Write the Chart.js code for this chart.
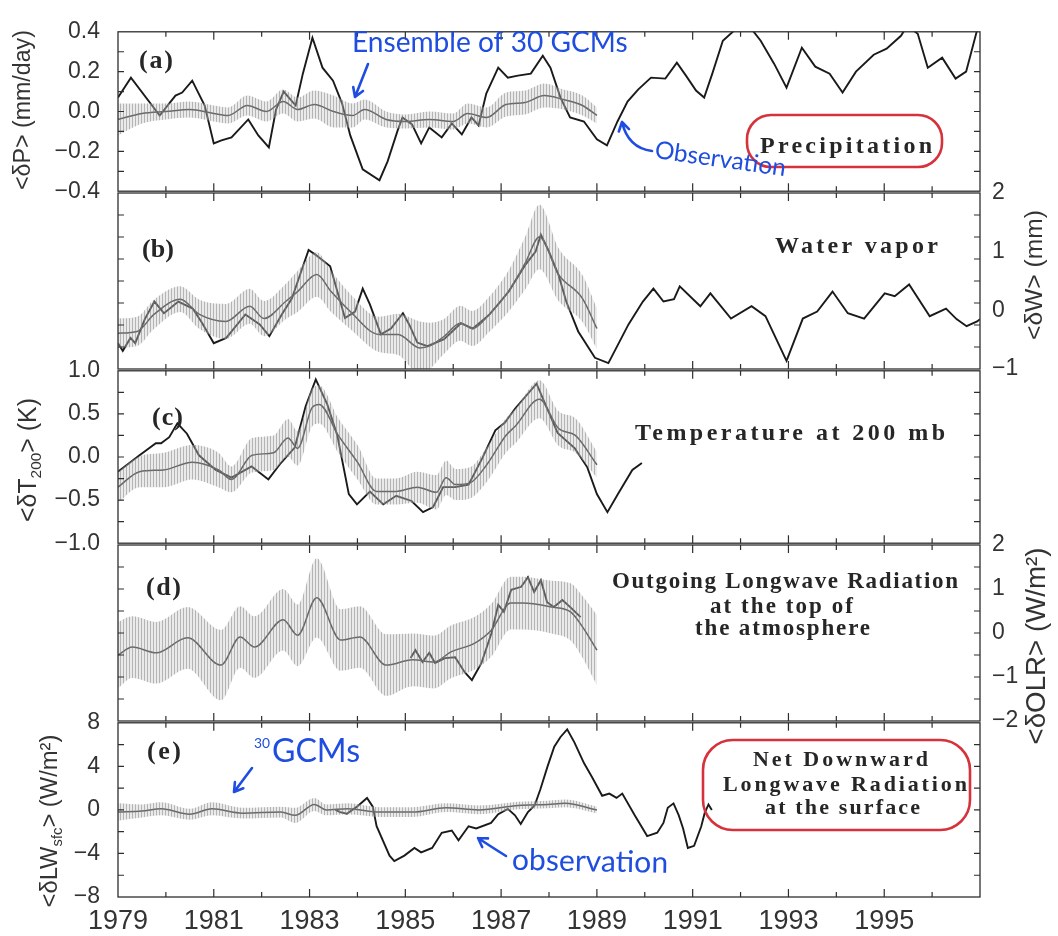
<!DOCTYPE html>
<html>
<head>
<meta charset="utf-8">
<script src="https://cdn.jsdelivr.net/npm/chart.js@4.4.0/dist/chart.umd.min.js"></script>
<style>
html, body { margin: 0; padding: 0; background: #fff; }
#wrap { position: relative; width: 1058px; height: 936px; overflow: hidden; }
#wrap canvas { position: absolute; left: 0; }
</style>
</head>
<body>
<div id="wrap">
  <canvas id="panelA"></canvas>
  <canvas id="panelB"></canvas>
  <canvas id="panelC"></canvas>
  <canvas id="panelD"></canvas>
  <canvas id="panelE"></canvas>
</div>
<script>
// ---- data: [year, value] and [year, ensemble mean, half spread] ----
const yearLabels = [1979, 1981, 1983, 1985, 1987, 1989, 1991, 1993, 1995];

const ticksA = [-0.4, -0.2, 0, 0.2, 0.4];
const ticksB = [-1, 0, 1, 2];
const ticksC = [-1, -0.5, 0, 0.5, 1];
const ticksD = [-2, -1, 0, 1, 2];
const ticksE = [-8, -4, 0, 4, 8];

const obsA = [[1979.0,0.07],[1979.27,0.17],[1979.87,-0.02],[1980.2,0.08],[1980.34,0.095],[1980.55,0.155],[1980.81,0.03],
  [1981.0,-0.16],[1981.16,-0.145],[1981.37,-0.13],[1981.72,-0.04],[1981.93,-0.12],[1982.15,-0.18],[1982.3,0.01],
  [1982.46,0.1],[1982.71,0.03],[1982.86,0.19],[1983.06,0.37],[1983.27,0.22],[1983.49,0.155],[1983.68,0.04],
  [1983.85,-0.12],[1984.11,-0.29],[1984.46,-0.345],[1984.63,-0.25],[1984.84,-0.095],[1984.94,-0.03],[1985.14,-0.065],
  [1985.33,-0.16],[1985.5,-0.08],[1985.76,-0.13],[1985.97,-0.06],[1986.18,-0.115],[1986.38,-0.03],[1986.53,-0.07],
  [1986.69,0.09],[1986.94,0.22],[1987.14,0.17],[1987.35,0.18],[1987.62,0.19],[1987.87,0.28],[1988.03,0.22],
  [1988.24,0.07],[1988.44,-0.03],[1988.73,-0.05],[1989.0,-0.14],[1989.21,-0.17],[1989.43,-0.05],[1989.64,0.05],
  [1989.86,0.11],[1990.13,0.17],[1990.43,0.165],[1990.67,0.245],[1990.86,0.18],[1991.07,0.105],[1991.24,0.07],
  [1991.41,0.19],[1991.63,0.355],[1991.93,0.42],[1992.21,0.42],[1992.42,0.355],[1992.7,0.24],[1992.96,0.12],
  [1993.28,0.32],[1993.56,0.225],[1993.86,0.19],[1994.13,0.095],[1994.41,0.2],[1994.78,0.285],[1995.05,0.315],
  [1995.35,0.38],[1995.48,0.43],[1995.7,0.39],[1995.91,0.22],[1996.21,0.27],[1996.49,0.165],[1996.71,0.2],
  [1996.93,0.4],[1997.0,0.45]];
const modelA = [[1979.0,-0.04,0.08],[1979.5,-0.01,0.05],[1980.0,0.0,0.04],[1980.5,0.01,0.04],[1981.0,-0.01,0.04],
  [1981.3,-0.02,0.04],[1981.7,0.03,0.05],[1982.1,0.0,0.05],[1982.45,0.05,0.06],[1982.75,0.01,0.06],[1983.1,0.035,0.07],
  [1983.5,0.0,0.08],[1983.9,-0.02,0.06],[1984.15,0.01,0.05],[1984.6,-0.04,0.04],[1985.0,-0.05,0.035],[1985.5,-0.04,0.04],
  [1986.0,-0.05,0.04],[1986.3,-0.01,0.05],[1986.7,-0.03,0.05],[1987.1,0.035,0.06],[1987.5,0.045,0.06],[1987.9,0.08,0.06],
  [1988.3,0.06,0.05],[1988.7,0.03,0.05],[1989.0,-0.02,0.04]];

const obsB = [[1979.0,-0.56],[1979.1,-0.69],[1979.26,-0.47],[1979.36,-0.56],[1979.56,-0.15],[1979.76,0.15],[1979.96,-0.05],
  [1980.26,0.15],[1980.56,0.03],[1980.76,-0.22],[1981.0,-0.56],[1981.26,-0.47],[1981.66,-0.07],[1981.96,-0.24],
  [1982.16,-0.44],[1982.42,-0.07],[1982.63,0.2],[1982.98,1.03],[1983.12,0.95],[1983.43,0.75],[1983.74,-0.13],
  [1983.95,-0.02],[1984.11,0.37],[1984.26,0.1],[1984.49,-0.41],[1984.7,-0.31],[1984.95,-0.05],[1985.08,-0.24],
  [1985.25,-0.55],[1985.46,-0.61],[1985.81,-0.49],[1986.16,-0.22],[1986.41,-0.31],[1986.76,-0.07],[1987.16,0.32],
  [1987.51,0.78],[1987.72,1.0],[1987.83,1.29],[1988.0,1.0],[1988.2,0.6],[1988.36,0.15],[1988.61,-0.36],[1988.96,-0.81],
  [1989.24,-0.9],[1989.66,-0.24],[1989.96,0.15],[1990.18,0.37],[1990.39,0.15],[1990.61,0.19],[1990.73,0.41],
  [1991.16,0.07],[1991.37,0.29],[1991.8,-0.14],[1992.23,0.07],[1992.52,-0.1],[1992.96,-0.86],[1993.3,-0.14],
  [1993.6,-0.02],[1993.92,0.32],[1994.24,-0.05],[1994.58,-0.14],[1995.01,0.29],[1995.22,0.24],[1995.52,0.44],
  [1995.95,-0.1],[1996.29,0.03],[1996.51,-0.15],[1996.72,-0.27],[1996.94,-0.19],[1997.0,-0.15]];
const modelB = [[1979.0,-0.39,0.25],[1979.4,-0.36,0.25],[1979.75,-0.07,0.25],[1980.3,0.19,0.22],[1980.7,-0.07,0.25],
  [1981.25,-0.19,0.3],[1981.75,0.07,0.3],[1982.05,-0.14,0.3],[1982.5,0.15,0.3],[1982.75,0.32,0.35],[1983.15,0.61,0.38],
  [1983.45,0.32,0.35],[1983.85,-0.02,0.3],[1984.45,-0.41,0.3],[1984.85,-0.41,0.35],[1985.3,-0.64,0.45],[1985.5,-0.61,0.4],
  [1985.8,-0.45,0.3],[1986.15,-0.22,0.3],[1986.4,-0.31,0.3],[1986.75,-0.07,0.3],[1987.15,0.32,0.35],[1987.5,0.8,0.45],
  [1987.8,1.25,0.55],[1988.2,0.61,0.45],[1988.7,0.2,0.4],[1989.0,-0.31,0.35]];

const obsC = [[1979.0,-0.17],[1979.45,0.02],[1979.79,0.16],[1979.9,0.16],[1980.07,0.23],[1980.24,0.39],[1980.44,0.27],
  [1980.69,0.02],[1981.04,-0.15],[1981.37,-0.24],[1981.79,-0.11],[1982.14,-0.26],[1982.4,-0.07],[1982.69,0.11],
  [1982.92,0.59],[1983.13,0.9],[1983.37,0.61],[1983.58,0.25],[1983.82,-0.43],[1983.99,-0.55],[1984.26,-0.4],
  [1984.54,-0.55],[1984.81,-0.45],[1985.13,-0.51],[1985.37,-0.64],[1985.58,-0.58],[1985.79,-0.35],[1986.04,-0.35],
  [1986.32,-0.32],[1986.61,-0.01],[1986.88,0.31],[1987.08,0.4],[1987.29,0.56],[1987.74,0.85],[1987.94,0.59],
  [1988.18,0.28],[1988.54,0.1],[1988.8,-0.12],[1989.0,-0.43],[1989.22,-0.64],[1989.44,-0.43],[1989.74,-0.15],
  [1989.94,-0.07]];
const modelC = [[1979.0,-0.35,0.18],[1979.45,-0.17,0.18],[1979.95,-0.15,0.2],[1980.55,-0.06,0.2],[1981.1,-0.15,0.2],
  [1981.37,-0.26,0.15],[1981.8,0.02,0.2],[1982.25,0.05,0.2],[1982.55,0.22,0.22],[1982.75,0.1,0.2],[1983.05,0.57,0.22],
  [1983.2,0.61,0.22],[1983.6,0.25,0.2],[1984.0,-0.06,0.2],[1984.4,-0.4,0.15],[1984.8,-0.4,0.15],[1985.25,-0.35,0.18],
  [1985.65,-0.41,0.2],[1985.85,-0.24,0.2],[1986.05,-0.32,0.18],[1986.35,-0.3,0.18],[1986.7,-0.09,0.2],[1987.1,0.25,0.2],
  [1987.3,0.36,0.2],[1987.8,0.67,0.22],[1988.2,0.33,0.2],[1988.55,0.25,0.2],[1989.0,-0.09,0.15]];

const obsD = [[1985.11,-0.57],[1985.21,-0.39],[1985.36,-0.66],[1985.5,-0.45],[1985.62,-0.68],[1985.83,-0.57],
  [1986.04,-0.55],[1986.24,-0.89],[1986.39,-1.07],[1986.59,-0.68],[1986.8,0.0],[1986.94,0.64],[1987.06,0.48],
  [1987.21,0.98],[1987.42,1.05],[1987.56,1.27],[1987.69,0.93],[1987.83,1.2],[1987.96,0.7],[1988.1,0.59],
  [1988.28,0.75],[1988.46,0.57],[1988.66,0.36]];
const modelD = [[1979.0,-0.5,0.75],[1979.3,-0.32,0.7],[1979.8,-0.45,0.7],[1980.45,-0.11,0.7],[1981.15,-0.73,0.8],
  [1981.55,-0.09,0.7],[1981.85,-0.32,0.7],[1982.45,0.3,0.7],[1982.75,-0.05,0.7],[1983.15,0.8,0.9],[1983.65,-0.16,0.7],
  [1984.05,-0.09,0.7],[1984.6,-0.73,0.7],[1985.15,-0.61,0.6],[1985.6,-0.66,0.6],[1985.95,-0.43,0.6],[1986.45,-0.23,0.6],
  [1986.8,0.07,0.6],[1987.2,0.68,0.6],[1987.45,0.68,0.6],[1988.05,0.59,0.6],[1988.45,0.48,0.65],[1988.7,0.14,0.7],
  [1989.0,-0.39,0.8]];

const obsE = [[1983.54,0.0],[1983.64,-0.2],[1983.78,-0.35],[1983.99,0.3],[1984.2,1.1],[1984.32,0.3],[1984.4,-1.5],
  [1984.67,-4.2],[1984.77,-4.7],[1984.98,-4.2],[1985.19,-3.5],[1985.33,-3.9],[1985.56,-3.5],[1985.76,-2.1],
  [1985.97,-1.9],[1986.11,-2.8],[1986.32,-1.5],[1986.48,-1.7],[1986.79,-1.2],[1986.94,-0.4],[1987.14,0.1],
  [1987.29,-0.5],[1987.41,-1.3],[1987.56,-0.2],[1987.7,0.4],[1987.82,1.9],[1987.97,4.0],[1988.11,5.8],[1988.24,6.7],
  [1988.38,7.4],[1988.53,6.2],[1988.73,4.3],[1988.9,3.0],[1989.11,1.3],[1989.26,1.5],[1989.41,1.1],[1989.53,1.5],
  [1989.79,-0.5],[1990.05,-2.4],[1990.26,-2.1],[1990.39,-1.2],[1990.48,0.2],[1990.6,0.6],[1990.71,-0.5],[1990.8,-1.7],
  [1990.9,-3.5],[1991.03,-3.3],[1991.18,-1.5],[1991.25,-0.3],[1991.33,0.5],[1991.4,0.0]];
const modelE = [[1979.0,-0.2,0.8],[1979.5,-0.1,0.6],[1979.9,0.1,0.6],[1980.5,-0.4,0.5],[1980.96,0.1,0.6],[1981.6,-0.3,0.5],
  [1982.4,-0.2,0.5],[1982.7,-0.5,0.7],[1983.1,0.5,0.6],[1983.35,0.0,0.5],[1983.8,0.1,0.5],[1984.47,-0.2,0.45],
  [1985.15,-0.2,0.45],[1985.85,0.2,0.4],[1986.53,0.0,0.4],[1987.36,0.4,0.35],[1987.98,0.5,0.35],[1988.33,0.6,0.35],
  [1989.0,0.0,0.3]];

// ---- layout ----
const PLOT_LEFT = 118;
const PLOT_RIGHT = 980;
const PANEL_H = 176;
const SANS = '"Liberation Sans", Arial, sans-serif';
const SERIF = '"Liberation Serif", "DejaVu Serif", serif';
const HAND = 'Lato, "Noto Sans", sans-serif';
const BLUE = '#1f4de0';
const RED = '#d6323c';
const INK = '#262626';

function fmt(dec) {
    return function (v) {
        return (v < 0 ? '\u2212' : '') + Math.abs(v).toFixed(dec);
    };
}

function makeHatch() {
    const c = document.createElement('canvas');
    c.width = 3;
    c.height = 4;
    const g = c.getContext('2d');
    g.fillStyle = 'rgba(200,200,200,0.38)';
    g.fillRect(0, 0, 3, 4);
    g.fillStyle = 'rgba(125,125,125,0.5)';
    g.fillRect(0, 0, 1, 4);
    return g.createPattern(c, 'repeat');
}
const hatch = makeHatch();

// notes (labels, handwriting, rings, axis titles) are page coordinates, per canvas
const panelNotes = {
    panelA: [
        {k: 'vtext', parts: [['<\u03b4P> (mm/day)', 'n']], cx: 22, cy: 110, len: 160},
        {k: 'serif', text: '(a)', x0: 139, x1: 173, cy: 61, size: 26},
        {k: 'serif', text: 'Precipitation', x0: 760, x1: 932, cy: 147, size: 24},
        {k: 'ring', x0: 747, y0: 115, x1: 942, y1: 167, r: 24},
        {k: 'hand', text: 'Ensemble of 30 GCMs', x0: 352, x1: 628, cy: 43, rot: 0},
        {k: 'arrow', pts: [[368, 64], [355, 97]]},
        {k: 'hand', text: 'Observation', x0: 655, x1: 787, cy: 150, rot: 0.14},
        {k: 'arrow', pts: [[652, 151], [628, 148], [622, 122]], curve: true}
    ],
    panelB: [
        {k: 'vtext', parts: [['<\u03b4W> (mm)', 'n']], cx: 1033, cy: 275, len: 130},
        {k: 'serif', text: '(b)', x0: 142, x1: 174, cy: 250, size: 26},
        {k: 'serif', text: 'Water vapor', x0: 775, x1: 938, cy: 247, size: 24}
    ],
    panelC: [
        {k: 'vtext', parts: [['<\u03b4T', 'n'], ['200', 'sub'], ['> (K)', 'n']], cx: 27, cy: 460, len: 124},
        {k: 'serif', text: '(c)', x0: 152, x1: 183, cy: 418, size: 26},
        {k: 'serif', text: 'Temperature at 200 mb', x0: 635, x1: 945, cy: 434, size: 24}
    ],
    panelD: [
        {k: 'vtext', parts: [['<\u03b4OLR> (W/m\u00b2)', 'n']], cx: 1035, cy: 646, len: 197},
        {k: 'serif', text: '(d)', x0: 146, x1: 181, cy: 588, size: 26},
        {k: 'serif', text: 'Outgoing Longwave Radiation', x0: 612, x1: 958, cy: 582, size: 23},
        {k: 'serif', text: 'at the top of', x0: 710, x1: 853, cy: 607, size: 23},
        {k: 'serif', text: 'the atmosphere', x0: 695, x1: 870, cy: 629, size: 23}
    ],
    panelE: [
        {k: 'vtext', parts: [['<\u03b4LW', 'n'], ['sfc', 'sub'], ['> (W/m\u00b2)', 'n']], cx: 48, cy: 821, len: 173},
        {k: 'serif', text: '(e)', x0: 147, x1: 181, cy: 752, size: 26},
        {k: 'serif', text: 'Net Downward', x0: 753, x1: 928, cy: 760, size: 22},
        {k: 'serif', text: 'Longwave Radiation', x0: 723, x1: 967, cy: 785, size: 22},
        {k: 'serif', text: 'at the surface', x0: 765, x1: 920, cy: 808, size: 22},
        {k: 'ring', x0: 703, y0: 740, x1: 970, y1: 830, r: 30},
        {k: 'hand', text: '30', x0: 254, x1: 270, cy: 744, rot: 0},
        {k: 'hand', text: 'GCMs', x0: 272, x1: 360, cy: 752, rot: 0},
        {k: 'arrow', pts: [[252, 768], [234, 792]]},
        {k: 'hand', text: 'observation', x0: 512, x1: 668, cy: 860, rot: 0.02},
        {k: 'arrow', pts: [[506, 856], [490, 846], [478, 838]], curve: true}
    ]
};

function drawSerif(ctx, it) {
    ctx.font = 'bold ' + it.size + 'px ' + SERIF;
    ctx.letterSpacing = '0px';
    const w = ctx.measureText(it.text).width;
    const sp = Math.max(0, (it.x1 - it.x0 - w) / Math.max(1, it.text.length - 1));
    ctx.letterSpacing = sp.toFixed(2) + 'px';
    ctx.fillStyle = INK;
    ctx.textAlign = 'left';
    ctx.textBaseline = 'middle';
    ctx.fillText(it.text, it.x0, it.cy);
    ctx.letterSpacing = '0px';
}

function drawHand(ctx, it) {
    ctx.font = '100px ' + HAND;
    const size = 100 * (it.x1 - it.x0) / ctx.measureText(it.text).width;
    ctx.save();
    ctx.translate(it.x0, it.cy);
    ctx.rotate(it.rot);
    ctx.font = size.toFixed(1) + 'px ' + HAND;
    ctx.fillStyle = BLUE;
    ctx.textAlign = 'left';
    ctx.textBaseline = 'middle';
    ctx.fillText(it.text, 0, 0);
    ctx.restore();
}

function drawArrow(ctx, it) {
    const p = it.pts;
    ctx.strokeStyle = BLUE;
    ctx.lineWidth = 2.6;
    ctx.lineCap = 'round';
    ctx.beginPath();
    ctx.moveTo(p[0][0], p[0][1]);
    if (it.curve) {
        ctx.quadraticCurveTo(p[1][0], p[1][1], p[2][0], p[2][1]);
    } else {
        ctx.lineTo(p[1][0], p[1][1]);
    }
    const tip = p[p.length - 1];
    const prev = p[p.length - 2];
    const ang = Math.atan2(tip[1] - prev[1], tip[0] - prev[0]);
    ctx.moveTo(tip[0], tip[1]);
    ctx.lineTo(tip[0] - 10 * Math.cos(ang - 0.55), tip[1] - 10 * Math.sin(ang - 0.55));
    ctx.moveTo(tip[0], tip[1]);
    ctx.lineTo(tip[0] - 10 * Math.cos(ang + 0.55), tip[1] - 10 * Math.sin(ang + 0.55));
    ctx.stroke();
}

function drawRing(ctx, it) {
    ctx.strokeStyle = RED;
    ctx.lineWidth = 2.6;
    ctx.beginPath();
    ctx.roundRect(it.x0, it.y0, it.x1 - it.x0, it.y1 - it.y0, it.r);
    ctx.stroke();
}

function drawVText(ctx, it) {
    const width = function (size) {
        let w = 0;
        it.parts.forEach(function (part) {
            ctx.font = (part[1] === 'n' ? size : size * 0.62) + 'px ' + SANS;
            w += ctx.measureText(part[0]).width;
        });
        return w;
    };
    const size = 100 * it.len / width(100);
    ctx.save();
    ctx.translate(it.cx, it.cy);
    ctx.rotate(-Math.PI / 2);
    let x = -width(size) / 2;
    ctx.fillStyle = '#333';
    ctx.textAlign = 'left';
    ctx.textBaseline = 'alphabetic';
    it.parts.forEach(function (part) {
        ctx.font = (part[1] === 'n' ? size : size * 0.62) + 'px ' + SANS;
        const off = part[1] === 'sub' ? size * 0.22 : 0;
        ctx.fillText(part[0], x, size * 0.36 + off);
        x += ctx.measureText(part[0]).width;
    });
    ctx.restore();
}

const notesPlugin = {
    id: 'notes',
    afterDraw(chart) {
        const items = panelNotes[chart.canvas.id] || [];
        const ctx = chart.ctx;
        ctx.save();
        ctx.translate(0, -chart.canvas._pageTop);
        items.forEach(function (it) {
            if (it.k === 'serif') drawSerif(ctx, it);
            else if (it.k === 'hand') drawHand(ctx, it);
            else if (it.k === 'arrow') drawArrow(ctx, it);
            else if (it.k === 'ring') drawRing(ctx, it);
            else if (it.k === 'vtext') drawVText(ctx, it);
        });
        ctx.restore();
    }
};

// box with inward ticks on all four sides
const framePlugin = {
    id: 'frame',
    afterDatasetsDraw(chart) {
        const {ctx, chartArea: a, scales} = chart;
        const x = scales.x;
        const y = scales.y;
        ctx.save();
        ctx.strokeStyle = '#2e2e2e';
        ctx.lineWidth = 1.3;
        ctx.strokeRect(a.left, a.top, a.right - a.left, a.bottom - a.top);
        ctx.lineWidth = 1.2;
        ctx.beginPath();
        for (let yr = 1980; yr < 1997; yr++) {
            const px = x.getPixelForValue(yr);
            const len = yr % 2 ? 8 : 5;
            ctx.moveTo(px, a.top);
            ctx.lineTo(px, a.top + len);
            ctx.moveTo(px, a.bottom);
            ctx.lineTo(px, a.bottom - len);
        }
        const step = (y.max - y.min) / 8;
        for (let i = 1; i < 8; i++) {
            const py = y.getPixelForValue(y.min + i * step);
            ctx.moveTo(a.left, py);
            ctx.lineTo(a.left + 6, py);
            ctx.moveTo(a.right, py);
            ctx.lineTo(a.right - 6, py);
        }
        ctx.stroke();
        ctx.restore();
    }
};

function yAxis(side, p, labelled) {
    return {
        position: side,
        min: p.min,
        max: p.max,
        afterBuildTicks: function (s) {
            s.ticks = p.ticks.map(function (v) { return {value: v}; });
        },
        ticks: {
            display: labelled,
            callback: function (v) { return p.fmt(v); },
            font: {family: SANS, size: 23},
            color: '#333',
            padding: side === 'left' ? 18 : 12
        },
        grid: {display: false, drawTicks: false},
        border: {display: false},
        afterFit: function (s) {
            s.width = side === 'left' ? PLOT_LEFT : 1058 - PLOT_RIGHT;
        }
    };
}

function drawPanel(id, p) {
    const isBottom = p.bottom === true;
    const canvasTop = Math.max(0, p.top - 30);
    const height = isBottom ? 936 - canvasTop : (p.top - canvasTop) + PANEL_H + 30;
    const cv = document.getElementById(id);
    cv.width = 1058;
    cv.height = height;
    cv.style.top = canvasTop + 'px';
    cv.style.width = '1058px';
    cv.style.height = height + 'px';
    cv._pageTop = canvasTop;

    const datasets = [
        {
            data: p.model.map(function (m) { return {x: m[0], y: m[1] + m[2]}; }),
            borderWidth: 0, pointRadius: 0, fill: false, cubicInterpolationMode: 'monotone'
        },
        {
            data: p.model.map(function (m) { return {x: m[0], y: m[1] - m[2]}; }),
            borderWidth: 0, pointRadius: 0, fill: '-1', backgroundColor: hatch, cubicInterpolationMode: 'monotone'
        },
        {
            data: p.model.map(function (m) { return {x: m[0], y: m[1]}; }),
            borderColor: '#2c2c2c', borderWidth: 1.5, pointRadius: 0, fill: false, cubicInterpolationMode: 'monotone'
        },
        {
            data: p.obs.map(function (o) { return {x: o[0], y: o[1]}; }),
            borderColor: '#1a1a1a', borderWidth: 1.9, pointRadius: 0, fill: false, tension: 0
        }
    ];

    new Chart(cv.getContext('2d'), {
        type: 'line',
        data: {datasets: datasets},
        options: {
            responsive: false,
            animation: false,
            events: [],
            layout: {padding: {top: p.top - canvasTop, bottom: isBottom ? 0 : 30, left: 0, right: 0}},
            scales: {
                x: {
                    type: 'linear',
                    min: 1979,
                    max: 1997,
                    display: isBottom,
                    afterBuildTicks: function (s) {
                        s.ticks = yearLabels.map(function (v) { return {value: v}; });
                    },
                    ticks: {
                        callback: function (v) { return String(v); },
                        font: {family: SANS, size: 27},
                        color: '#333',
                        padding: 8,
                        maxRotation: 0,
                        autoSkip: false
                    },
                    grid: {display: false, drawTicks: false},
                    border: {display: false},
                    afterFit: function (s) { s.height = isBottom ? 39 : 0; }
                },
                y: yAxis('left', p, p.side === 'left'),
                y2: yAxis('right', p, p.side === 'right')
            },
            plugins: {
                legend: {display: false},
                tooltip: {enabled: false}
            }
        },
        plugins: [framePlugin, notesPlugin]
    });
}

drawPanel('panelA', {top: 17, min: -0.4, max: 0.4, ticks: ticksA, fmt: fmt(1), side: 'left', obs: obsA, model: modelA});
drawPanel('panelB', {top: 193, min: -1, max: 2, ticks: ticksB, fmt: fmt(0), side: 'right', obs: obsB, model: modelB});
drawPanel('panelC', {top: 369, min: -1, max: 1, ticks: ticksC, fmt: fmt(1), side: 'left', obs: obsC, model: modelC});
drawPanel('panelD', {top: 545, min: -2, max: 2, ticks: ticksD, fmt: fmt(0), side: 'right', obs: obsD, model: modelD});
drawPanel('panelE', {top: 721, min: -8, max: 8, ticks: ticksE, fmt: fmt(0), side: 'left', obs: obsE, model: modelE, bottom: true});
</script>
</body>
</html>
